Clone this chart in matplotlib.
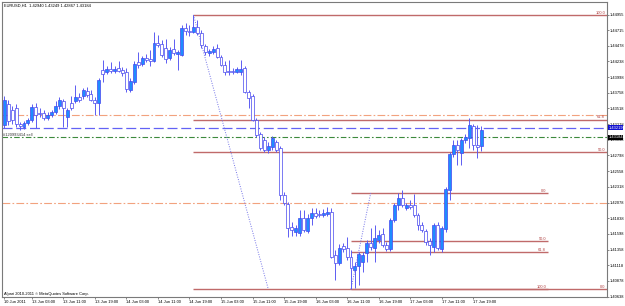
import matplotlib
matplotlib.use("Agg")
import matplotlib.pyplot as plt
from matplotlib import rcParams
from matplotlib.transforms import blended_transform_factory

rcParams['font.family'] = ['Liberation Sans', 'DejaVu Sans']

# hourly EURUSD candles, 10 Jun 2011 20:00 .. 17 Jun 2011 21:00
opens = [1.43265, 1.43586, 1.43494, 1.43525, 1.43280, 1.43234, 1.43295, 1.43341, 1.43540, 1.43448,
         1.43448, 1.43372, 1.43418, 1.43463, 1.43555, 1.43632, 1.43387, 1.43601, 1.43632, 1.43693,
         1.43708, 1.43785, 1.43739, 1.43647, 1.43601, 1.44106, 1.44075, 1.44121, 1.44091, 1.44137,
         1.44106, 1.44075, 1.43800, 1.43922, 1.44228, 1.44198, 1.44290, 1.44274, 1.44244, 1.44519,
         1.44504, 1.44443, 1.44290, 1.44427, 1.44351, 1.44336, 1.44749, 1.44703, 1.44688, 1.44764,
         1.44672, 1.44473, 1.44366, 1.44381, 1.44443, 1.44305, 1.44183, 1.44091, 1.44091, 1.44075,
         1.44075, 1.44137, 1.43769, 1.43708, 1.43341, 1.43127, 1.43035, 1.42882, 1.42928, 1.43004,
         1.42913, 1.42194, 1.42056, 1.41704, 1.41627, 1.41612, 1.41842, 1.41643, 1.41842, 1.41918,
         1.41903, 1.41888, 1.41903, 1.41933, 1.41276, 1.41153, 1.41413, 1.41383, 1.41245, 1.41046,
         1.41107, 1.41168, 1.41306, 1.41459, 1.41383, 1.41505, 1.41597, 1.41429, 1.41367, 1.41811,
         1.42040, 1.42148, 1.41995, 1.42040, 1.42040, 1.41888, 1.41735, 1.41643, 1.41490, 1.41398,
         1.41735, 1.41367, 1.41673, 1.42270, 1.42821, 1.42959, 1.42836, 1.43035, 1.43066, 1.43249,
         1.42959, 1.42940]
highs = [1.43708, 1.43647, 1.43555, 1.43586, 1.43310, 1.43326, 1.43372, 1.43586, 1.43601, 1.43525,
         1.43494, 1.43463, 1.43494, 1.43632, 1.43693, 1.43662, 1.43525, 1.43708, 1.43877, 1.43754,
         1.43831, 1.43846, 1.43800, 1.43693, 1.43984, 1.44259, 1.44167, 1.44228, 1.44167, 1.44244,
         1.44152, 1.44137, 1.43984, 1.44244, 1.44381, 1.44320, 1.44351, 1.44412, 1.44688, 1.44642,
         1.44565, 1.44580, 1.44458, 1.44580, 1.44412, 1.44795, 1.44825, 1.44795, 1.44948, 1.44871,
         1.44718, 1.44504, 1.44427, 1.44473, 1.44504, 1.44336, 1.44244, 1.44259, 1.44137, 1.44152,
         1.44259, 1.44167, 1.43800, 1.43739, 1.43372, 1.43157, 1.43081, 1.43004, 1.43096, 1.43035,
         1.42943, 1.42239, 1.42086, 1.41780, 1.41735, 1.41964, 1.41964, 1.41903, 1.41995, 1.41995,
         1.41964, 1.41979, 1.42010, 1.41995, 1.41352, 1.41444, 1.41459, 1.41551, 1.41352, 1.41168,
         1.41321, 1.41321, 1.41505, 1.41689, 1.41735, 1.41658, 1.41689, 1.41474, 1.41842, 1.42071,
         1.42224, 1.42270, 1.42071, 1.42117, 1.42209, 1.41918, 1.41780, 1.41673, 1.41536, 1.41765,
         1.41780, 1.41719, 1.42316, 1.42851, 1.43035, 1.43035, 1.43066, 1.43127, 1.43372, 1.43280,
         1.43265, 1.43249]
lows = [1.43219, 1.43265, 1.43280, 1.43234, 1.43188, 1.43203, 1.43265, 1.43310, 1.43219, 1.43387,
        1.43341, 1.43341, 1.43387, 1.43433, 1.43509, 1.43234, 1.43234, 1.43494, 1.43601, 1.43616,
        1.43662, 1.43693, 1.43632, 1.43418, 1.43418, 1.43922, 1.44045, 1.44060, 1.44060, 1.44075,
        1.44014, 1.43769, 1.43769, 1.43892, 1.44137, 1.44167, 1.44228, 1.44167, 1.44228, 1.44458,
        1.44305, 1.44213, 1.44259, 1.44336, 1.44106, 1.44320, 1.44642, 1.44626, 1.44672, 1.44642,
        1.44443, 1.44336, 1.44320, 1.44351, 1.44290, 1.44167, 1.44030, 1.44030, 1.44045, 1.44060,
        1.44030, 1.43754, 1.43525, 1.43326, 1.43081, 1.42882, 1.42851, 1.42836, 1.42882, 1.42851,
        1.42117, 1.42040, 1.41551, 1.41566, 1.41566, 1.41566, 1.41627, 1.41612, 1.41735, 1.41842,
        1.41857, 1.41857, 1.41872, 1.41230, 1.40893, 1.41123, 1.41321, 1.41199, 1.40755, 1.40771,
        1.40817, 1.41015, 1.41168, 1.41352, 1.41168, 1.41459, 1.41398, 1.41337, 1.41337, 1.41780,
        1.41964, 1.42010, 1.41964, 1.41979, 1.41857, 1.41658, 1.41627, 1.41429, 1.41276, 1.41321,
        1.41352, 1.41321, 1.41627, 1.42117, 1.42775, 1.42653, 1.42653, 1.42989, 1.42913, 1.42882,
        1.42760, 1.42867]
closes = [1.43647, 1.43326, 1.43341, 1.43280, 1.43249, 1.43295, 1.43341, 1.43540, 1.43418, 1.43433,
          1.43372, 1.43418, 1.43463, 1.43555, 1.43647, 1.43525, 1.43494, 1.43525, 1.43693, 1.43647,
          1.43800, 1.43724, 1.43647, 1.43601, 1.43953, 1.44045, 1.44121, 1.44091, 1.44121, 1.44091,
          1.44060, 1.43815, 1.43938, 1.44198, 1.44183, 1.44290, 1.44259, 1.44244, 1.44519, 1.44489,
          1.44336, 1.44274, 1.44412, 1.44366, 1.44381, 1.44749, 1.44703, 1.44688, 1.44764, 1.44672,
          1.44489, 1.44381, 1.44397, 1.44427, 1.44305, 1.44183, 1.44075, 1.44075, 1.44075, 1.44121,
          1.44121, 1.43769, 1.43678, 1.43341, 1.43112, 1.42913, 1.42882, 1.42943, 1.43066, 1.42882,
          1.42194, 1.42071, 1.41689, 1.41658, 1.41689, 1.41842, 1.41658, 1.41842, 1.41918, 1.41872,
          1.41888, 1.41918, 1.41933, 1.41245, 1.41153, 1.41383, 1.41367, 1.41245, 1.41077, 1.41107,
          1.41291, 1.41276, 1.41459, 1.41398, 1.41536, 1.41581, 1.41429, 1.41367, 1.41811, 1.42040,
          1.42148, 1.42040, 1.42040, 1.42010, 1.41888, 1.41735, 1.41658, 1.41474, 1.41429, 1.41735,
          1.41383, 1.41689, 1.42285, 1.42821, 1.42959, 1.42882, 1.43035, 1.43081, 1.43265, 1.42959,
          1.42928, 1.43184]

header = "EURUSD,H1  1.42940 1.43249 1.42867 1.43184"

# price scale labels
price_ticks = [1.44955, 1.44715, 1.44478, 1.44238, 1.43998, 1.43758, 1.43518, 1.43278, 1.43038,
               1.42798, 1.42558, 1.42318, 1.42078, 1.41838, 1.41598, 1.41358, 1.41118, 1.40878,
               1.40638]

# time scale labels (bar index, text)
time_ticks = [0, 7, 15, 23, 31, 39, 47, 55, 63, 71, 79, 87, 95, 103, 111, 119]
time_labels = ["10 Jun 2011", "13 Jun 03:00", "13 Jun 11:00", "13 Jun 19:00", "14 Jun 03:00",
               "14 Jun 11:00", "14 Jun 19:00", "15 Jun 03:00", "15 Jun 11:00", "15 Jun 19:00",
               "16 Jun 03:00", "16 Jun 11:00", "16 Jun 19:00", "17 Jun 03:00", "17 Jun 11:00",
               "17 Jun 19:00"]

# fibonacci retracements
fib1_high, fib_low = 1.44948, 1.40755
fib1_levels = [100.0, 61.8, 50.0, 0.0]
fib2_high = 1.42224
fib2_levels = [161.8, 127.2, 0.0, 50.0, 61.8, 100.0]

# horizontal lines
orange_levels = [1.43418, 1.42071]
blue_level = 1.43219
order_level = 1.43081
order_text = "#120993414 sell"
copyright_text = "Alpari 2010-2011 \u00a9 MetaQuotes Software Corp."

FS = 2.9
FIB = '#c06a6a'


def draw_candles(ax):
    for i, (o, h, l, c) in enumerate(zip(opens, highs, lows, closes)):
        ax.vlines(i, l, h, color='#5c5cf2', linewidth=0.7, zorder=3)
        bull = c >= o
        ax.bar(i, abs(c - o) + 1e-6, bottom=min(o, c), width=0.75,
               color='#1e8cff' if bull else 'white',
               edgecolor='#4646ee', linewidth=0.5, zorder=4)


def draw_objects(ax, xmax):
    trans = blended_transform_factory(ax.transAxes, ax.transData)
    for p in orange_levels:
        ax.axhline(p, color='#f2a27e', linewidth=0.8, linestyle=(0, (7, 2, 1.5, 2)), zorder=2)
    ax.axhline(blue_level, color='#6262f5', linewidth=0.9, linestyle=(0, (8, 3)), zorder=2)
    ax.axhline(order_level, color='#3d8a3d', linewidth=0.8, linestyle=(0, (5, 2, 1.5, 2)), zorder=2)
    ax.text(-0.2, order_level + 0.00004, order_text, fontsize=FS, va='bottom', ha='left', color='#333333')

    # fib 1: from the 14 Jun high to the 16 Jun low
    for lv in fib1_levels:
        p = fib_low + lv / 100 * (fib1_high - fib_low)
        ax.hlines(p, 48, xmax, color=FIB, linewidth=1.0, zorder=2)
        ax.text(xmax - 0.5, p + 0.00003, "%.1f" % lv, fontsize=FS, color='#b04040',
                ha='right', va='bottom')
    # fib 2: from the 16 Jun low to the 16 Jun bounce
    for lv in fib2_levels:
        p = fib2_high - lv / 100 * (fib2_high - fib_low)
        ax.hlines(p, 88, 138, color=FIB, linewidth=1.0, zorder=2)
        ax.text(137.5, p + 0.00003, "%.1f" % lv, fontsize=FS, color='#b04040',
                ha='right', va='bottom')

    # dotted trend lines
    ax.plot([48, 67], [fib1_high, fib_low], color='#7474e8', linewidth=0.7, linestyle=(0, (1, 1.5)), zorder=2)
    ax.plot([88, 93], [fib_low, fib2_high], color='#7474e8', linewidth=0.7, linestyle=(0, (1, 1.5)), zorder=2)

    # price boxes on the scale
    ax.text(1.002, blue_level, "1.43219", transform=trans, fontsize=FS, color='white', va='center',
            ha='left', clip_on=False, bbox=dict(boxstyle='square,pad=0.12', fc='#1010d0', ec='none'))
    ax.text(1.002, order_level - 0.00006, "1.43184", transform=trans, fontsize=FS, color='white',
            va='center', ha='left', clip_on=False,
            bbox=dict(boxstyle='square,pad=0.12', fc='black', ec='none'))


def style_axes(ax):
    ax.set_facecolor('white')
    for s in ax.spines.values():
        s.set_color('#7a7a7a')
        s.set_linewidth(0.8)
    ax.yaxis.tick_right()
    ax.set_yticks(price_ticks)
    ax.set_yticklabels(["%.5f" % t for t in price_ticks])
    ax.set_xticks(time_ticks)
    ax.set_xticklabels(time_labels, ha='left')
    ax.tick_params(axis='both', labelsize=FS, length=1.5, width=0.5, color='#555555', pad=0.6)
    ax.tick_params(axis='x', pad=0.4)


def main():
    fig = plt.figure(figsize=(6.25, 3.06), dpi=100)
    fig.patch.set_facecolor('white')
    ax = fig.add_axes([2 / 625, 9 / 306, 605 / 625, 295.5 / 306])
    xmax = 152.97
    ax.set_xlim(-0.58, xmax)
    ax.set_ylim(1.40633, 1.45154)

    draw_objects(ax, xmax)
    draw_candles(ax)
    style_axes(ax)

    ax.text(0.003, 0.992, header, transform=ax.transAxes, fontsize=FS, va='top', ha='left')
    ax.text(0.003, 0.004, copyright_text, transform=ax.transAxes, fontsize=FS, va='bottom', ha='left')

    fig.savefig("out.png", dpi=100)


if __name__ == "__main__":
    main()
